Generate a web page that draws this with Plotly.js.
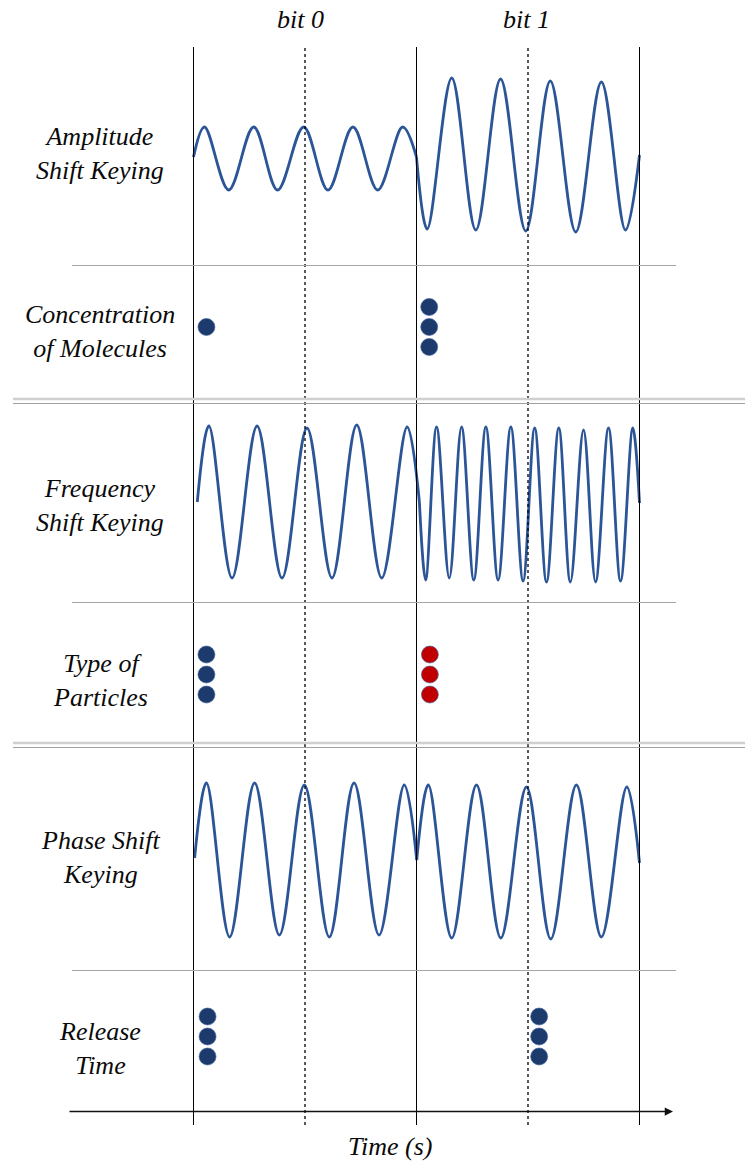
<!DOCTYPE html>
<html>
<head>
<meta charset="utf-8">
<script src="https://cdn.plot.ly/plotly-3.0.1.min.js"></script>
<style>
  html, body { margin: 0; padding: 0; background: #ffffff; }
  #chart { width: 745px; height: 1162px; }
</style>
</head>
<body>
<div id="chart"></div>
<script>
// ---------------- DATA (time in bit periods; amplitude in arbitrary units) ----------------
const bitLabels = ["bit 0", "bit 1"];
const rowLabels = [
  "Amplitude<br>Shift Keying",
  "Concentration<br>of Molecules",
  "Frequency<br>Shift Keying",
  "Type of<br>Particles",
  "Phase Shift<br>Keying",
  "Release<br>Time"
];
const axisTitle = "Time (s)";
const bitBoundaries = [0, 1, 2];
const bitMidpoints = [0.5, 1.5];

// Amplitude shift keying waveform (extrema)
const askBit0T = [0, 0.049, 0.158, 0.270, 0.377, 0.494, 0.603, 0.715, 0.826, 0.938, 1.0];
const askBit0Y = [-0.01, 0.29, -0.34, 0.29, -0.34, 0.29, -0.34, 0.29, -0.34, 0.29, -0.01];
const askBit1T = [1.0, 1.048, 1.158, 1.266, 1.377, 1.490, 1.600, 1.714, 1.829, 1.937, 2.0];
const askBit1Y = [-0.01, -0.73, 0.78, -0.74, 0.77, -0.75, 0.75, -0.76, 0.74, -0.74, 0.01];

// Frequency shift keying waveform
const fskBit0T = [0.017, 0.069, 0.173, 0.285, 0.397, 0.509, 0.621, 0.732, 0.844, 0.958, 1.013];
const fskBit0Y = [0, 0.76, -0.76, 0.76, -0.76, 0.74, -0.76, 0.77, -0.76, 0.75, 0];
const fskBit1T = [1.013, 1.041, 1.090, 1.147, 1.202, 1.257, 1.311, 1.366, 1.423, 1.478, 1.530,
                  1.583, 1.638, 1.690, 1.749, 1.803, 1.861, 1.915, 1.970, 2.0];
const fskBit1Y = [0, -0.78, 0.75, -0.76, 0.75, -0.78, 0.75, -0.78, 0.75, -0.79, 0.74,
                  -0.80, 0.74, -0.80, 0.72, -0.80, 0.74, -0.79, 0.74, -0.01];

// Phase shift keying waveform
const pskBit0T = [0.005, 0.058, 0.162, 0.274, 0.385, 0.497, 0.609, 0.720, 0.832, 0.945, 1.001];
const pskBit0Y = [0.02, 0.77, -0.77, 0.77, -0.75, 0.75, -0.77, 0.77, -0.75, 0.75, 0];
const pskBit1T = [1.001, 1.053, 1.158, 1.269, 1.378, 1.493, 1.602, 1.717, 1.829, 1.943, 2.0];
const pskBit1Y = [0, 0.75, -0.78, 0.75, -0.78, 0.73, -0.79, 0.75, -0.77, 0.73, -0.03];

// Molecule releases (time, stacking slot, particle type)
const concDotT = [0.058, 1.057, 1.057, 1.057];
const concDotSlot = [0, 1, 0, -1];
const typeDotT = [0.058, 0.058, 0.058, 1.060, 1.060, 1.060];
const typeDotSlot = [1, 0, -1, 1, 0, -1];
const typeDotKind = ["A", "A", "A", "B", "B", "B"];
const timeDotT = [0.063, 0.063, 0.063, 1.550, 1.550, 1.550];
const timeDotSlot = [1, 0, -1, 1, 0, -1];

// ---------------- STYLE / LAYOUT ----------------
const W = 745, H = 1162;
const X0PX = 193.5, PXPERBIT = 223;
const py = p => 1 - p / H;          // pixel row -> paper
const pxX = p => p / W;             // pixel col -> paper
const tx = p => (p - X0PX) / PXPERBIT; // pixel col -> time units

const waveColor = "#2b5597";
const navy = "#1c3a6b";
const red = "#c00000";
const serif = "Liberation Serif";

function waveTrace(t, y, ax) {
  return { x: t, y: y, yaxis: ax, type: "scatter", mode: "lines",
           line: { color: waveColor, width: 2.8, shape: "spline", smoothing: 1 },
           hoverinfo: "skip", showlegend: false };
}
function dotTrace(t, slot, colors, ax) {
  return { x: t, y: slot, yaxis: ax, type: "scatter", mode: "markers",
           marker: { size: 17, color: colors, line: { color: "rgba(70,100,160,0.8)", width: 0.8 } },
           hoverinfo: "skip", showlegend: false, cliponaxis: false };
}

const traces = [
  waveTrace(askBit0T, askBit0Y, "y"),
  waveTrace(askBit1T, askBit1Y, "y"),
  dotTrace(concDotT, concDotSlot, navy, "y2"),
  waveTrace(fskBit0T, fskBit0Y, "y3"),
  waveTrace(fskBit1T, fskBit1Y, "y3"),
  dotTrace(typeDotT, typeDotSlot, typeDotKind.map(k => k === "A" ? navy : red), "y4"),
  waveTrace(pskBit0T, pskBit0Y, "y5"),
  waveTrace(pskBit1T, pskBit1Y, "y5"),
  dotTrace(timeDotT, timeDotSlot, navy, "y6")
];

function yAx(centerPx, halfPx, halfRange) {
  return { domain: [py(centerPx + halfPx), py(centerPx - halfPx)], range: [-halfRange, halfRange],
           visible: false, fixedrange: true, anchor: "x" };
}

const shapes = [];
bitBoundaries.forEach(b => shapes.push({ type: "line", xref: "x", yref: "paper",
  x0: b, x1: b, y0: py(1125), y1: py(47), line: { color: "#000", width: 1 } }));
bitMidpoints.forEach(b => shapes.push({ type: "line", xref: "x", yref: "paper",
  x0: b, x1: b, y0: py(1125), y1: py(47), line: { color: "#000", width: 1.3, dash: "dot" } }));
[265.5, 602.5, 970.5].forEach(r => shapes.push({ type: "line", xref: "paper", yref: "paper",
  x0: pxX(72), x1: pxX(676), y0: py(r), y1: py(r), line: { color: "#a6a6a6", width: 1 } }));
[[399, 403.5], [743, 747.5]].forEach(([a, b]) => {
  shapes.push({ type: "line", xref: "paper", yref: "paper", x0: pxX(13), x1: 1,
    y0: py(a), y1: py(a), line: { color: "#d0d0d0", width: 2.5 } });
  shapes.push({ type: "line", xref: "paper", yref: "paper", x0: pxX(13), x1: 1,
    y0: py(b), y1: py(b), line: { color: "#a0a0a0", width: 1 } });
});

const labelFont = { family: serif, size: 26, color: "#0a0a0a", style: "italic" };
const rowCenters = [154, 331, 505, 680, 857, 1048];
const annotations = rowLabels.map((txt, i) => ({
  text: txt, xref: "paper", yref: "paper", x: pxX(100), y: py(rowCenters[i]),
  xanchor: "center", yanchor: "middle", showarrow: false, font: labelFont, align: "center"
}));
bitLabels.forEach((b, i) => annotations.push({
  text: b, xref: "x", yref: "paper", x: bitMidpoints[i] - (i === 0 ? 0.02 : 0.008), y: py(19),
  xanchor: "center", yanchor: "middle", showarrow: false, font: labelFont
}));
annotations.push({
  text: axisTitle, xref: "paper", yref: "paper", x: pxX(390), y: py(1146),
  xanchor: "center", yanchor: "middle", showarrow: false, font: labelFont
});
// time axis arrow
annotations.push({
  text: "", xref: "x", yref: "paper", x: tx(673), y: py(1111.5),
  axref: "pixel", ayref: "pixel", ax: -(673 - 68), ay: 0,
  showarrow: true, arrowhead: 2, arrowsize: 1.1, arrowwidth: 1.5, arrowcolor: "#111"
});

const layout = {
  width: W, height: H, autosize: false,
  margin: { l: 0, r: 0, t: 0, b: 0, pad: 0 },
  paper_bgcolor: "#ffffff", plot_bgcolor: "rgba(0,0,0,0)",
  showlegend: false,
  font: { family: serif },
  xaxis: { range: [tx(0), tx(W)], visible: false, fixedrange: true, domain: [0, 1] },
  yaxis: yAx(156, 100, 1),
  yaxis2: yAx(327, 50, 2.5),
  yaxis3: yAx(502, 100, 1),
  yaxis4: yAx(674.5, 50, 2.5),
  yaxis5: yAx(860, 100, 1),
  yaxis6: yAx(1036.5, 50, 2.5),
  shapes: shapes,
  annotations: annotations
};

Plotly.newPlot("chart", traces, layout, { staticPlot: true, displayModeBar: false });
</script>
</body>
</html>
